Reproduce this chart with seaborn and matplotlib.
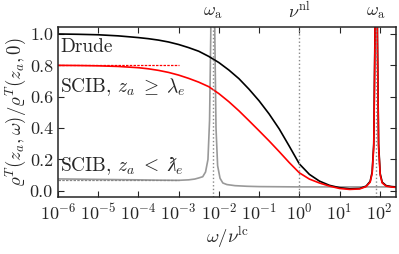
import numpy as np
import pandas as pd
import matplotlib
matplotlib.use("Agg")
import matplotlib.pyplot as plt
import seaborn as sns

# log10(omega / nu_lc) and values
gray_logw = [-6.0, -5.0, -4.0, -3.5, -3.0, -2.75, -2.6, -2.5, -2.4, -2.33, -2.27, -2.23,
             -2.2, -2.18, -2.15, -2.12, -2.1, -2.07, -2.03, -1.97, -1.9, -1.8, -1.6,
             -1.3, -1.0, 0.0, 1.0, 2.0, 2.4]
gray_val = [0.076, 0.073, 0.070, 0.068, 0.067, 0.070, 0.075, 0.082, 0.09, 0.12, 0.2, 0.45,
            1.0, 2.0, 4.0, 2.0, 1.0, 0.4, 0.16, 0.08, 0.05, 0.04, 0.033,
            0.029, 0.027, 0.025, 0.025, 0.025, 0.025]

drude_logw = [-6.0, -5.5, -5.0, -4.5, -4.0, -3.75, -3.5, -3.25, -3.0, -2.75, -2.5, -2.25,
              -2.0, -1.75, -1.5, -1.25, -1.0, -0.75, -0.5, -0.25, 0.0, 0.25, 0.5, 0.75,
              1.0, 1.25, 1.5, 1.66, 1.76, 1.81, 1.85, 1.88, 1.91, 1.94, 1.97, 2.01,
              2.06, 2.16, 2.3, 2.4]
drude_val = [1.0, 0.998, 0.995, 0.988, 0.977, 0.970, 0.961, 0.949, 0.933, 0.913, 0.890, 0.857,
             0.818, 0.770, 0.715, 0.648, 0.574, 0.490, 0.395, 0.285, 0.172, 0.105, 0.062, 0.035,
             0.020, 0.013, 0.015, 0.03, 0.06, 0.12, 0.3, 1.0, 4.0, 1.0, 0.3, 0.11,
             0.055, 0.033, 0.027, 0.025]

scib_logw = [-6.0, -5.5, -5.0, -4.5, -4.0, -3.75, -3.5, -3.25, -3.0, -2.75, -2.5, -2.25,
             -2.0, -1.75, -1.5, -1.25, -1.0, -0.75, -0.5, -0.25, 0.0, 0.25, 0.5, 0.75,
             1.0, 1.25, 1.5, 1.66, 1.76, 1.81, 1.85, 1.88, 1.91, 1.94, 1.97, 2.01,
             2.06, 2.16, 2.3, 2.4]
scib_val = [0.800, 0.799, 0.797, 0.793, 0.785, 0.778, 0.768, 0.755, 0.738, 0.717, 0.693, 0.664,
            0.620, 0.568, 0.510, 0.447, 0.383, 0.318, 0.250, 0.180, 0.115, 0.075, 0.050, 0.030,
            0.015, 0.009, 0.012, 0.027, 0.055, 0.11, 0.28, 0.95, 4.0, 0.95, 0.28, 0.1,
            0.05, 0.03, 0.024, 0.022]

# static limits drawn as dashed lines
asym_logw = [-6.0, -3.0]
asym_red = 0.8
asym_gray = 0.072

# marked frequencies
marks_logw = [-2.15, 0.0, 1.91]
marks_text = [r"$\omega_{\rm a}$", r"$\nu^{\rm nl}$", r"$\omega_{\rm a}$"]

sns.set_style("ticks")
plt.rcParams["font.family"] = ["cmr10", "DejaVu Serif"]
plt.rcParams["mathtext.fontset"] = "cm"
plt.rcParams["axes.formatter.use_mathtext"] = True
plt.rcParams["axes.linewidth"] = 1.1

fig = plt.figure(figsize=(3.99, 2.54), dpi=100)
ax = fig.add_axes([0.145, 0.224, 0.847, 0.67])

gray_df = pd.DataFrame({"w": 10.0 ** np.array(gray_logw), "v": gray_val})
drude_df = pd.DataFrame({"w": 10.0 ** np.array(drude_logw), "v": drude_val})
scib_df = pd.DataFrame({"w": 10.0 ** np.array(scib_logw), "v": scib_val})

sns.lineplot(data=gray_df, x="w", y="v", ax=ax, color="#999999", lw=1.2)
sns.lineplot(data=drude_df, x="w", y="v", ax=ax, color="black", lw=1.2)
sns.lineplot(data=scib_df, x="w", y="v", ax=ax, color="red", lw=1.2)

aw = 10.0 ** np.array(asym_logw)
ax.plot(aw, [asym_red, asym_red], color="red", lw=0.9, dashes=(2, 1))
ax.plot(aw, [asym_gray, asym_gray], color="#888888", lw=0.9, dashes=(2, 1))

for lw_, t in zip(marks_logw, marks_text):
    ax.axvline(10.0 ** lw_, color="#888888", ls=":", lw=1.0)
    ax.text(10.0 ** lw_, 1.035, t, transform=ax.get_xaxis_transform(),
            ha="center", va="bottom", fontsize=13)

ax.text(1.15e-6, 0.915, "Drude", ha="left", va="center", fontsize=14)
ax.text(1.15e-6, 0.66, r"SCIB, $z_a \;\geq\; \lambda_e$", ha="left", va="center", fontsize=14)
ax.text(1.15e-6, 0.155, r"SCIB, $z_a \;<\; ƛ_e$", ha="left", va="center", fontsize=14)

ax.set_xscale("log")
ax.set_xlim(1e-6, 2.5e2)
ax.set_ylim(-0.04, 1.045)
ax.set_yticks([0.0, 0.2, 0.4, 0.6, 0.8, 1.0])
ax.set_yticklabels(["0.0", "0.2", "0.4", "0.6", "0.8", "1.0"])
ax.set_xticks([10.0 ** k for k in range(-6, 3)])
ax.tick_params(which="both", direction="in", top=True, right=True, labelsize=13)
ax.tick_params(which="major", length=4)
ax.tick_params(which="minor", length=2)
ax.set_xlabel(r"$\omega/\nu^{\rm lc}$", fontsize=13.5, labelpad=1)
ax.set_ylabel(r"$\varrho^T(z_a,\omega)/\varrho^T(z_a,0)$", fontsize=13.5, labelpad=1)

fig.savefig("out.png", dpi=100)
